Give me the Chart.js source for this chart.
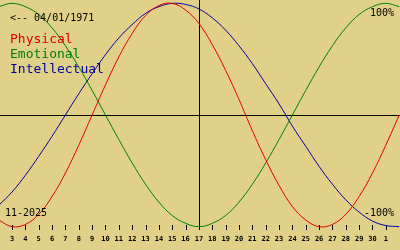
<!DOCTYPE html>
<html>
<head>
<meta charset="utf-8">
<script src="https://cdn.jsdelivr.net/npm/chart.js@4/dist/chart.umd.min.js"></script>
<style>
  html, body { margin: 0; padding: 0; background: #e0d088; }
  #wrap { width: 400px; height: 250px; position: relative; }
</style>
</head>
<body>
<div id="wrap"><canvas id="bio" width="400" height="250"></canvas></div>
<script>
// day labels under the axis (Nov 3 .. Nov 30, Dec 1)
const dayLabels = ['3','4','5','6','7','8','9','10','11','12','13','14','15','16','17','18','19','20','21','22','23','24','25','26','27','28','29','30','1'];
const todayIndex = 14; // day 17
const firstIndex = -1; // series start one day before the first label

// values read per day, index -1 .. 29
const physical = [-0.94,-1.00,-0.98,-0.89,-0.73,-0.52,-0.27,0.00,0.27,0.52,0.73,0.89,0.98,1.00,0.94,0.82,0.63,0.40,0.14,-0.14,-0.40,-0.63,-0.82,-0.94,-1.00,-0.98,-0.89,-0.73,-0.52,-0.27,0.00];
const emotional = [0.97,1.00,0.97,0.90,0.78,0.62,0.43,0.22,0.00,-0.22,-0.43,-0.62,-0.78,-0.90,-0.97,-1.00,-0.97,-0.90,-0.78,-0.62,-0.43,-0.22,0.00,0.22,0.43,0.62,0.78,0.90,0.97,1.00,0.97];
const intellectual = [-0.81,-0.69,-0.54,-0.37,-0.19,0.00,0.19,0.37,0.54,0.69,0.81,0.91,0.97,1.00,0.99,0.95,0.87,0.76,0.62,0.46,0.28,0.10,-0.10,-0.28,-0.46,-0.62,-0.76,-0.87,-0.95,-0.99,-1.00];

const seriesNames = ['Physical', 'Emotional', 'Intellectual'];
const seriesColors = ['#e00000', '#008000', '#0000a0'];

const MONO = '"DejaVu Sans Mono", "Liberation Mono", monospace';

function toPoints(vals) {
  return vals.map((v, k) => ({ x: k + firstIndex, y: v }));
}

const overlay = {
  id: 'overlay',
  beforeDatasetsDraw(chart) {
    const ctx = chart.ctx;
    const xs = chart.scales.x, ys = chart.scales.y;
    const area = chart.chartArea;
    ctx.save();
    ctx.strokeStyle = '#000';
    ctx.lineWidth = 1;
    // zero line
    const y0 = Math.round(ys.getPixelForValue(0)) + 0.5;
    ctx.beginPath(); ctx.moveTo(area.left, y0); ctx.lineTo(area.right, y0); ctx.stroke();
    // today line
    const xt = Math.round(xs.getPixelForValue(todayIndex)) + 0.5;
    ctx.beginPath(); ctx.moveTo(xt, area.top); ctx.lineTo(xt, area.bottom - 2); ctx.stroke();
    // tick marks
    dayLabels.forEach((_, i) => {
      const x = Math.round(xs.getPixelForValue(i)) + 0.5;
      ctx.beginPath(); ctx.moveTo(x, area.bottom - 5); ctx.lineTo(x, area.bottom); ctx.stroke();
    });
    ctx.restore();
  },
  afterDraw(chart) {
    const ctx = chart.ctx;
    ctx.save();
    ctx.textBaseline = 'alphabetic';
    ctx.fillStyle = '#000';
    ctx.font = '10px ' + MONO;
    ctx.textAlign = 'left';
    ctx.fillText('<-- 04/01/1971', 10, 21);
    ctx.fillText('11-2025', 5, 216);
    ctx.textAlign = 'right';
    ctx.fillText('100%', 394, 16);
    ctx.fillText('-100%', 394, 216);
    ctx.textAlign = 'left';
    ctx.font = '13px ' + MONO;
    seriesNames.forEach((n, k) => {
      ctx.fillStyle = seriesColors[k];
      ctx.fillText(n, 10, 43 + k * 15);
    });
    ctx.restore();
  }
};

new Chart(document.getElementById('bio'), {
  type: 'line',
  data: {
    datasets: [physical, emotional, intellectual].map((vals, k) => ({
      label: seriesNames[k],
      data: toPoints(vals),
      borderColor: seriesColors[k],
      borderWidth: 1,
      pointRadius: 0,
      tension: 0.4,
      fill: false
    }))
  },
  options: {
    responsive: false,
    animation: false,
    maintainAspectRatio: false,
    devicePixelRatio: 1,
    layout: { padding: 0 },
    plugins: { legend: { display: false }, tooltip: { enabled: false } },
    scales: {
      x: {
        type: 'linear',
        min: -0.9,
        max: 29.06,
        grid: { display: false },
        border: { display: false },
        afterBuildTicks: (s) => { s.ticks = dayLabels.map((_, i) => ({ value: i })); },
        afterFit: (s) => { s.height = 20; },
        ticks: {
          autoSkip: false,
          maxRotation: 0,
          padding: -3,
          color: '#000',
          font: { family: MONO, size: 7, weight: 'bold' },
          callback: (v) => dayLabels[v]
        }
      },
      y: {
        display: false,
        min: -1.03,
        max: 1.03
      }
    }
  },
  plugins: [overlay]
});
</script>
</body>
</html>
